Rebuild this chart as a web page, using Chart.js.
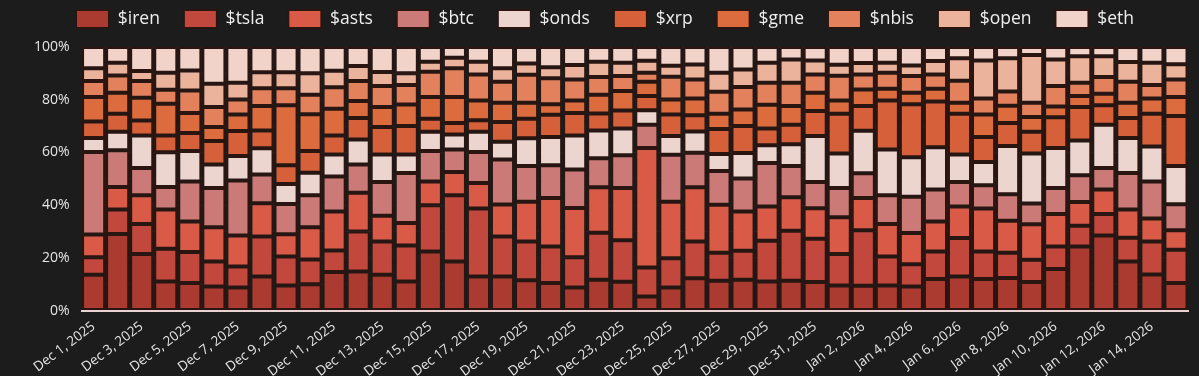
<!DOCTYPE html>
<html>
<head>
<meta charset="utf-8">
<script src="https://cdn.jsdelivr.net/npm/chart.js@4.4.1/dist/chart.umd.min.js"></script>
<style>
html,body{margin:0;padding:0;background:#1c1c1c;}
#wrap{width:1199px;height:376px;position:relative;}
</style>
</head>
<body>
<div id="wrap"><canvas id="c"></canvas></div>
<script>
const categories = ["Dec 1, 2025","Dec 2, 2025","Dec 3, 2025","Dec 4, 2025","Dec 5, 2025","Dec 6, 2025","Dec 7, 2025","Dec 8, 2025","Dec 9, 2025","Dec 10, 2025","Dec 11, 2025","Dec 12, 2025","Dec 13, 2025","Dec 14, 2025","Dec 15, 2025","Dec 16, 2025","Dec 17, 2025","Dec 18, 2025","Dec 19, 2025","Dec 20, 2025","Dec 21, 2025","Dec 22, 2025","Dec 23, 2025","Dec 24, 2025","Dec 25, 2025","Dec 26, 2025","Dec 27, 2025","Dec 28, 2025","Dec 29, 2025","Dec 30, 2025","Dec 31, 2025","Jan 1, 2026","Jan 2, 2026","Jan 3, 2026","Jan 4, 2026","Jan 5, 2026","Jan 6, 2026","Jan 7, 2026","Jan 8, 2026","Jan 9, 2026","Jan 10, 2026","Jan 11, 2026","Jan 12, 2026","Jan 13, 2026","Jan 14, 2026","Jan 15, 2026"];

const iren = [13.6,29.0,21.4,11.0,10.4,9.1,8.7,12.9,9.5,10.0,14.6,14.8,13.6,11.0,22.4,18.6,12.9,12.9,11.5,10.4,8.7,11.7,10.9,5.3,8.7,12.2,11.3,11.7,11.0,11.3,10.8,9.5,9.4,9.5,9.1,12.0,12.9,12.0,12.3,10.8,15.8,24.3,28.5,18.6,13.7,10.4];
const tsla = [6.6,9.3,11.4,12.4,11.8,9.5,8.0,15.2,11.0,9.4,8.2,15.2,12.6,13.7,17.5,25.1,25.8,15.2,14.7,13.9,11.5,17.8,15.8,11.0,11.1,14.0,10.6,11.0,15.5,19.0,16.4,11.9,21.1,11.0,8.5,10.4,14.6,10.4,9.6,8.5,8.5,7.9,8.1,9.0,12.5,12.7];
const asts = [8.6,8.6,10.9,14.9,11.6,13.0,11.8,12.6,8.4,12.2,14.8,14.7,9.8,8.5,9.1,8.9,9.7,12.1,15.1,18.4,18.7,17.3,19.8,45.4,21.5,20.6,18.2,14.9,13.0,12.7,11.6,14.0,12.2,12.3,11.8,11.4,12.0,16.3,12.2,13.4,12.3,9.0,9.3,10.7,8.7,7.4];
const btc = [31.4,13.9,10.4,8.6,15.2,14.9,20.8,10.9,11.5,12.1,13.3,10.7,12.8,19.0,11.5,8.5,11.8,17.1,13.5,12.4,14.6,11.0,12.4,8.8,17.8,13.1,12.8,12.5,16.5,11.8,10.0,11.1,9.4,10.9,13.8,12.1,9.3,8.8,10.0,7.9,9.9,10.1,8.2,13.9,14.1,9.8];
const onds = [5.3,7.0,12.3,13.2,11.5,8.9,9.3,10.0,7.6,8.6,8.3,9.5,10.4,7.0,7.3,5.7,7.6,6.7,10.6,10.7,12.9,10.5,10.2,5.5,7.1,8.0,6.5,9.7,6.7,8.3,17.4,13.1,16.1,17.4,15.0,16.1,10.4,8.9,18.3,19.0,15.2,13.2,16.4,13.3,13.2,14.5];
const xrp = [6.2,6.9,5.7,6.3,6.9,8.9,9.5,6.7,7.1,8.2,7.2,8.2,10.4,10.8,5.0,4.4,4.4,7.5,7.4,8.5,8.6,6.5,6.8,5.4,8.2,6.2,9.5,10.2,6.4,7.4,9.5,15.1,9.4,18.6,20.1,17.3,15.5,9.4,8.8,8.2,11.6,12.7,7.4,7.6,12.5,19.0];
const gme = [9.3,7.9,8.6,12.1,7.6,5.3,6.3,9.3,22.8,14.0,10.2,6.4,7.6,8.2,8.2,9.8,7.5,7.3,6.0,4.0,4.7,7.1,7.4,5.4,5.7,6.4,5.8,6.3,9.0,7.1,6.9,5.0,6.3,4.5,4.3,4.9,4.1,8.6,6.5,5.6,4.1,4.2,4.4,5.7,5.8,7.2];
const nbis = [6.1,6.6,6.4,5.3,8.5,7.6,5.7,6.7,6.4,7.4,8.1,7.6,8.0,7.4,9.6,10.9,9.9,8.0,10.7,9.8,8.0,6.7,5.7,3.4,8.6,7.2,8.3,8.5,8.3,8.8,7.0,9.4,5.7,6.0,6.4,5.4,8.4,6.1,5.4,5.4,7.8,5.0,6.3,8.0,5.1,6.7];
const open = [4.8,4.8,3.8,6.4,7.6,8.9,6.3,6.1,6.1,8.1,6.3,5.7,5.3,4.4,3.8,4.0,4.8,5.1,4.2,4.2,5.5,5.8,5.0,4.6,4.2,5.7,7.2,6.7,7.6,8.9,5.3,4.2,4.3,3.8,4.0,5.1,8.5,14.4,12.6,18.2,10.1,10.1,7.9,7.5,8.4,5.8];
const eth = [8.1,6.0,9.1,9.8,8.9,13.9,13.6,9.6,9.6,10.0,9.0,7.2,9.5,10.0,5.6,4.1,5.6,8.1,6.3,7.7,6.8,5.6,6.0,5.2,7.1,6.6,9.8,8.5,6.0,4.7,5.1,6.7,6.1,6.0,7.0,5.3,4.3,5.1,4.3,3.0,4.7,3.5,3.5,5.7,6.0,6.5];

const seriesNames = ["$iren","$tsla","$asts","$btc","$onds","$xrp","$gme","$nbis","$open","$eth"];
const seriesValues = [iren,tsla,asts,btc,onds,xrp,gme,nbis,open,eth];
const seriesColors = ["#ab3a31","#c2483d","#da5a48","#cc7a77","#ecd4cf","#d5603a","#dc6b3e","#e4815d","#ebb29c","#f2d3c9"];
const yTicks = [0,10,20,30,40,50,60,70,80,90,100];

const totals = categories.map((_, i) => seriesValues.reduce((s, arr) => s + arr[i], 0));
const datasets = seriesNames.map((name, k) => ({
  label: name,
  data: seriesValues[k].map((v, i) => v / totals[i] * 100),
  backgroundColor: seriesColors[k],
  borderColor: "#2a1510",
  borderWidth: 2,
  borderSkipped: false,
  barPercentage: 0.96,
  categoryPercentage: 1.0
}));

Chart.defaults.font.family = "'Open Sans', 'Noto Sans', sans-serif";
Chart.defaults.color = "#e6e6e6";

const legendMargin = {
  id: "legendMargin",
  beforeInit(chart) {
    const origFit = chart.legend.fit;
    chart.legend.fit = function () {
      origFit.call(this);
      this.height += 9;
    };
  }
};

new Chart(document.getElementById("c"), {
  type: "bar",
  data: { labels: categories, datasets },
  plugins: [legendMargin],
  options: {
    responsive: true,
    maintainAspectRatio: false,
    animation: false,
    layout: { padding: { left: 22, right: 11, top: -14, bottom: -4 } },
    plugins: {
      legend: {
        position: "top",
        labels: { boxWidth: 33, boxHeight: 18, padding: 24, font: { size: 17.5 }, color: "#eeeeee" }
      },
      tooltip: { enabled: false }
    },
    scales: {
      x: {
        stacked: true,
        grid: { display: false },
        border: { display: true, color: "#ead2d2", width: 2 },
        ticks: {
          autoSkip: false,
          maxRotation: 37,
          minRotation: 37,
          font: { size: 13.5 },
          color: "#e6e6e6",
          padding: 0,
          callback: function (v, i) { return i % 2 === 0 ? categories[i] : ""; }
        }
      },
      y: {
        stacked: true,
        min: 0,
        max: 100,
        afterBuildTicks: axis => { axis.ticks = yTicks.map(v => ({ value: v })); },
        grid: { color: "rgba(255,255,255,0.06)", drawTicks: false },
        border: { display: false },
        ticks: {
          padding: 12,
          font: { size: 14 },
          color: "#e6e6e6",
          callback: v => (v % 20 === 0 ? v + "%" : "")
        }
      }
    }
  }
});
</script>
</body>
</html>
